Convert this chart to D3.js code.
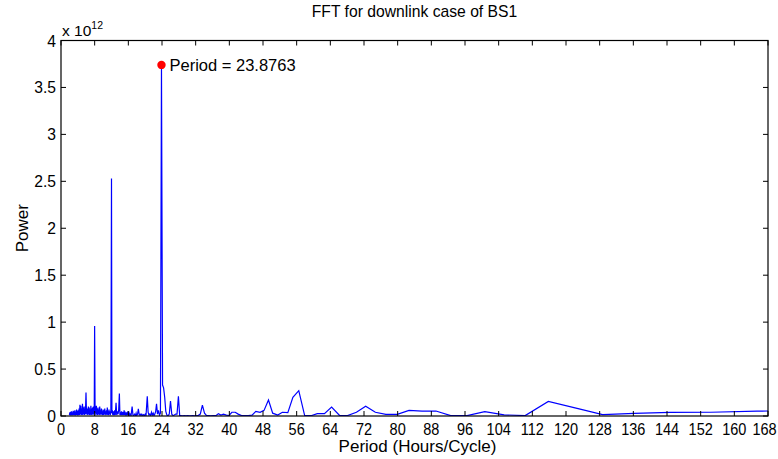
<!DOCTYPE html>
<html><head><meta charset="utf-8">
<script src="https://cdn.jsdelivr.net/npm/d3@7"></script>
<style>body{margin:0;background:#fff}svg{font-family:"Liberation Sans",Arial,sans-serif}</style>
</head><body><svg id="c" width="778" height="459"></svg>
<script>
// Period (hours/cycle) and power (x 1e12)
const periods = [2.0,2.1,2.2,2.3,2.4,2.5,2.6,2.7,2.8,2.9,3.0,3.1,3.2,3.3,3.4,3.5,3.6,3.7,3.8,3.9,4.0,4.1,4.2,4.3,4.4,4.5,4.6,4.7,4.8,4.9,5.0,5.1,5.2,5.3,5.4,5.5,5.6,5.7,5.8,5.94,6.06,6.2,6.3,6.4,6.5,6.6,6.7,6.8,6.9,7.0,7.1,7.2,7.3,7.4,7.5,7.6,7.7,7.8,7.9,7.99,8.1,8.2,8.3,8.4,8.5,8.6,8.7,8.8,8.9,9.0,9.1,9.2,9.3,9.4,9.5,9.6,9.7,9.8,9.9,10.0,10.1,10.2,10.3,10.4,10.5,10.6,10.7,10.8,10.9,11.0,11.1,11.2,11.3,11.4,11.5,11.6,11.7,11.85,12.0,12.1,12.2,12.3,12.45,12.6,12.75,12.9,13.08,13.25,13.4,13.55,13.7,13.87,14.0,14.12,14.26,14.4,14.55,14.7,14.85,15.0,15.15,15.3,15.45,15.6,15.75,15.9,16.05,16.2,16.35,16.5,16.65,16.9,17.1,17.3,17.5,17.7,17.85,18.0,18.2,18.38,18.6,18.83,19.0,19.2,19.4,19.6,19.8,20.0,20.2,20.5,20.7,20.9,21.1,21.3,21.5,21.7,21.9,22.1,22.3,22.5,22.7,22.93,23.16,23.4,23.63,23.876,24.13,24.38,24.64,24.9,25.17,25.45,25.73,26.02,26.32,26.62,26.93,27.25,27.57,27.9,28.2,28.6,28.95,29.3,29.7,30.1,30.5,30.9,31.3,31.7,32.2,32.6,33.1,33.6,34.1,34.6,35.1,35.6,36.2,36.8,37.4,38.0,38.6,39.3,39.9,40.6,41.4,42.1,42.9,43.7,44.5,45.4,46.3,47.3,48.25,49.3,50.3,51.5,52.6,53.9,55.1,56.5,57.9,59.4,60.9,62.6,64.3,66.2,68.1,70.2,72.4,74.7,77.2,79.9,82.7,85.8,89.1,92.6,96.5,100.7,105.3,110.3,115.8,121.9,128.7,136.2,144.75,154.4,165.4,178.2];
const powers = [0.01,0.04,0.005,0.045,0.01,0.05,0.005,0.04,0.01,0.055,0.008,0.05,0.01,0.06,0.005,0.045,0.01,0.07,0.01,0.055,0.005,0.06,0.01,0.08,0.01,0.12,0.02,0.11,0.01,0.08,0.015,0.13,0.01,0.09,0.02,0.1,0.01,0.07,0.02,0.25,0.03,0.015,0.08,0.01,0.1,0.02,0.09,0.01,0.07,0.015,0.11,0.01,0.08,0.02,0.09,0.01,0.1,0.02,0.05,0.96,0.03,0.1,0.01,0.11,0.02,0.08,0.01,0.09,0.02,0.07,0.01,0.1,0.02,0.06,0.01,0.08,0.02,0.05,0.01,0.07,0.01,0.06,0.02,0.08,0.01,0.05,0.02,0.06,0.01,0.09,0.015,0.05,0.01,0.07,0.02,0.05,0.01,0.04,2.53,0.03,0.06,0.01,0.05,0.01,0.06,0.01,0.14,0.01,0.05,0.02,0.06,0.24,0.01,0.03,0.01,0.05,0.01,0.04,0.01,0.06,0.01,0.03,0.005,0.04,0.01,0.05,0.005,0.03,0.01,0.02,0.005,0.1,0.01,0.005,0.02,0.005,0.03,0.005,0.02,0.075,0.01,0.02,0.005,0.02,0.005,0.015,0.003,0.02,0.005,0.21,0.04,0.01,0.02,0.005,0.04,0.01,0.03,0.005,0.02,0.05,0.13,0.02,0.06,0.01,0.03,3.74,0.33,0.3,0.2,0.05,0.01,0.003,0.02,0.16,0.02,0.005,0.01,0.02,0.02,0.21,0.005,0.003,0.002,0.003,0.002,0.003,0.002,0.002,0.003,0.002,0.003,0.005,0.02,0.115,0.03,0.004,0.003,0.002,0.003,0.003,0.025,0.01,0.02,0.01,0.005,0.04,0.04,0.02,0.005,0.003,0.005,0.01,0.05,0.04,0.06,0.17,0.03,0.01,0.04,0.035,0.2,0.27,0.005,0.003,0.025,0.025,0.095,0.005,0.005,0.04,0.103,0.04,0.018,0.018,0.06,0.053,0.053,0.004,0.004,0.046,0.012,0.004,0.155,0.09,0.015,0.027,0.038,0.04,0.052,0.058];
const xTicks = d3.range(0, 169, 8);
const yTicks = [0,0.5,1,1.5,2,2.5,3,3.5,4];
const peakPeriod = 23.8763, peakPower = 3.74;

const svg = d3.select("#c");
const L=61, R=768, T=40.5, B=416;
const x = d3.scaleLinear().domain([0,168]).range([L,R]);
const y = d3.scaleLinear().domain([0,4]).range([B,T]);

svg.append("defs").append("clipPath").attr("id","clip")
  .append("rect").attr("x",L).attr("y",T).attr("width",R-L).attr("height",B-T);

const data = periods.map((p,i)=>[p,powers[i]]);
svg.append("path").datum(data).attr("clip-path","url(#clip)")
  .attr("fill","none").attr("stroke","#0000ff").attr("stroke-width",1.2)
  .attr("d", d3.line().x(d=>x(d[0])).y(d=>y(d[1])));

// frame and ticks
const g = svg.append("g").attr("fill","#000");
const tl = 5;
xTicks.forEach(t=>{
  g.append("line").attr("x1",x(t)).attr("x2",x(t)).attr("y1",B).attr("y2",B-tl).attr("stroke","#000");
  g.append("line").attr("x1",x(t)).attr("x2",x(t)).attr("y1",T).attr("y2",T+tl).attr("stroke","#000");
  const cx = Math.min(x(t), 764.5);
  g.append("text").attr("transform",`translate(${cx},${B+19}) scale(0.88,1)`)
    .attr("font-size",16.5).attr("text-anchor","middle").text(t);
});
yTicks.forEach(t=>{
  g.append("line").attr("x1",L).attr("x2",L+tl).attr("y1",y(t)).attr("y2",y(t)).attr("stroke","#000");
  g.append("line").attr("x1",R).attr("x2",R-tl).attr("y1",y(t)).attr("y2",y(t)).attr("stroke","#000");
  g.append("text").attr("transform",`translate(${L-5},${y(t)+6}) scale(0.95,1)`)
    .attr("font-size",16.5).attr("text-anchor","end").text(t);
});
svg.append("rect").attr("x",L).attr("y",T).attr("width",R-L).attr("height",B-T)
  .attr("fill","none").attr("stroke","#000").attr("stroke-width",1.2);

// exponent
const ex = g.append("text").attr("x",L+1).attr("y",T-5).attr("font-size",15.5);
ex.append("tspan").text("x 10");
ex.append("tspan").attr("font-size",10.5).attr("dy",-7).text("12");

// peak marker
svg.append("circle").attr("cx",x(peakPeriod)).attr("cy",y(peakPower)).attr("r",4.2).attr("fill","#ff0000");
g.append("text").attr("x",x(peakPeriod)+8).attr("y",y(peakPower)+6).attr("font-size",16.5).text("Period = " + peakPeriod);

// labels
g.append("text").attr("x",(L+R)/2).attr("y",17).attr("font-size",15.7).attr("text-anchor","middle").text("FFT for downlink case of BS1");
g.append("text").attr("x",(L+R)/2+3).attr("y",452).attr("font-size",17).attr("text-anchor","middle").text("Period (Hours/Cycle)");
g.append("text").attr("transform",`translate(28,${(T+B)/2}) rotate(-90)`).attr("font-size",17).attr("text-anchor","middle").text("Power");
</script></body></html>
